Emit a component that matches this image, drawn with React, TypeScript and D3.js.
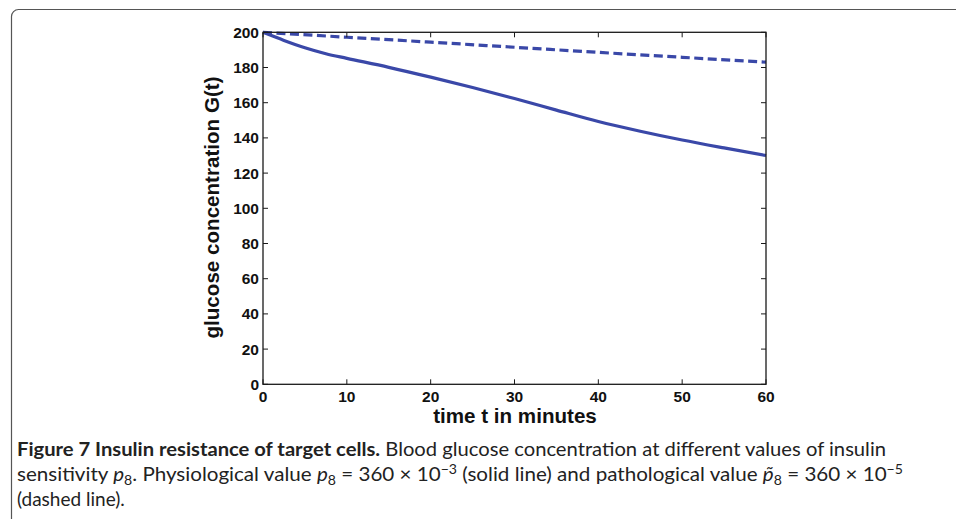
import React from "react";
import * as d3 from "d3";

const timeSolid = [0, 2.5, 5, 7.5, 10, 15, 20, 25, 30, 35, 40, 45, 50, 55, 60];
const glucoseSolid = [200, 195.4, 191.2, 187.8, 185.2, 180.1, 174.5, 168.6, 162.4, 155.8, 149.3, 143.8, 138.8, 134.3, 130.0];
const timeDashed = [0, 10, 20, 30, 40, 50, 60];
const glucoseDashed = [200, 197.2, 194.4, 191.5, 188.6, 185.8, 183.0];
const xTicks = [0, 10, 20, 30, 40, 50, 60];
const yTicks = [0, 20, 40, 60, 80, 100, 120, 140, 160, 180, 200];

const W = 956;
const H = 519;
const left = 263;
const right = 766;
const top = 32.3;
const bottom = 384.3;
const lineColor = "#3a48a8";
const axisColor = "#1a1a1a";
const tickFont = "'Liberation Sans', Arial, Helvetica, sans-serif";
const capFont = "Lato, 'Open Sans', sans-serif";

export default function App() {
  const x = d3.scaleLinear().domain([0, 60]).range([left, right]);
  const y = d3.scaleLinear().domain([0, 200]).range([bottom, top]);
  const mk = (ts: number[], gs: number[]) =>
    d3
      .line<number>()
      .x((d) => x(d))
      .y((_, i) => y(gs[i]))
      .curve(d3.curveMonotoneX)(ts) || "";
  const tl = 5;
  return (
    <div style={{ position: "absolute", left: 0, top: 0 }}>
      <svg width={W} height={H} style={{ display: "block", background: "#fff" }}>
        <rect x={11.5} y={9.5} width={1100} height={700} rx={7} fill="none" stroke="#555" strokeWidth={1.2} />
        <path d={mk(timeSolid, glucoseSolid)} fill="none" stroke={lineColor} strokeWidth={3.2} />
        <path d={mk(timeDashed, glucoseDashed)} fill="none" stroke={lineColor} strokeWidth={3.2} strokeDasharray="9,4.5" />
        <rect x={left} y={top} width={right - left} height={bottom - top} fill="none" stroke={axisColor} strokeWidth={1.3} />
        {xTicks.map((t) => (
          <g key={"x" + t}>
            <line x1={x(t)} x2={x(t)} y1={bottom} y2={bottom - tl} stroke={axisColor} strokeWidth={1} />
            <line x1={x(t)} x2={x(t)} y1={top} y2={top + tl} stroke={axisColor} strokeWidth={1} />
            <text x={x(t)} y={401.5} textAnchor="middle" fontFamily={tickFont} fontWeight="bold" fontSize={15.5} fill="#111">
              {t}
            </text>
          </g>
        ))}
        {yTicks.map((t) => (
          <g key={"y" + t}>
            <line x1={left} x2={left + tl} y1={y(t)} y2={y(t)} stroke={axisColor} strokeWidth={1} />
            <line x1={right} x2={right - tl} y1={y(t)} y2={y(t)} stroke={axisColor} strokeWidth={1} />
            <text x={259} y={y(t) + 5.5} textAnchor="end" fontFamily={tickFont} fontWeight="bold" fontSize={15.5} fill="#111">
              {t}
            </text>
          </g>
        ))}
        <text x={515} y={423} textAnchor="middle" fontFamily={tickFont} fontWeight="bold" fontSize={20.6} fill="#111">
          time t in minutes
        </text>
        <text
          transform={`translate(219,207.5) rotate(-90)`}
          textAnchor="middle"
          fontFamily={tickFont}
          fontWeight="bold"
          fontSize={20.6}
          fill="#111"
        >
          glucose concentration G(t)
        </text>
        <g fontFamily={capFont} fontSize={19} fill="#222">
          <text x={17} y={455.5} textLength={869} lengthAdjust="spacingAndGlyphs">
            <tspan fontWeight="bold">Figure 7 Insulin resistance of target cells.</tspan>
            <tspan> Blood glucose concentration at different values of insulin</tspan>
          </text>
          <text x={17} y={480.5} textLength={886} lengthAdjust="spacingAndGlyphs">
            <tspan>sensitivity </tspan>
            <tspan fontStyle="italic">p</tspan>
            <tspan fontSize={13} baselineShift="-4">8</tspan>
            <tspan>. Physiological value </tspan>
            <tspan fontStyle="italic">p</tspan>
            <tspan fontSize={13} baselineShift="-4">8</tspan>
            <tspan>{" = 360 × 10"}</tspan>
            <tspan fontSize={13} baselineShift="7">−3</tspan>
            <tspan> (solid line) and pathological value </tspan>
            <tspan fontStyle="italic">p̃</tspan>
            <tspan fontSize={13} baselineShift="-4">8</tspan>
            <tspan>{" = 360 × 10"}</tspan>
            <tspan fontSize={13} baselineShift="7">−5</tspan>
          </text>
          <text x={17} y={505.5}>(dashed line).</text>
        </g>
      </svg>
    </div>
  );
}
